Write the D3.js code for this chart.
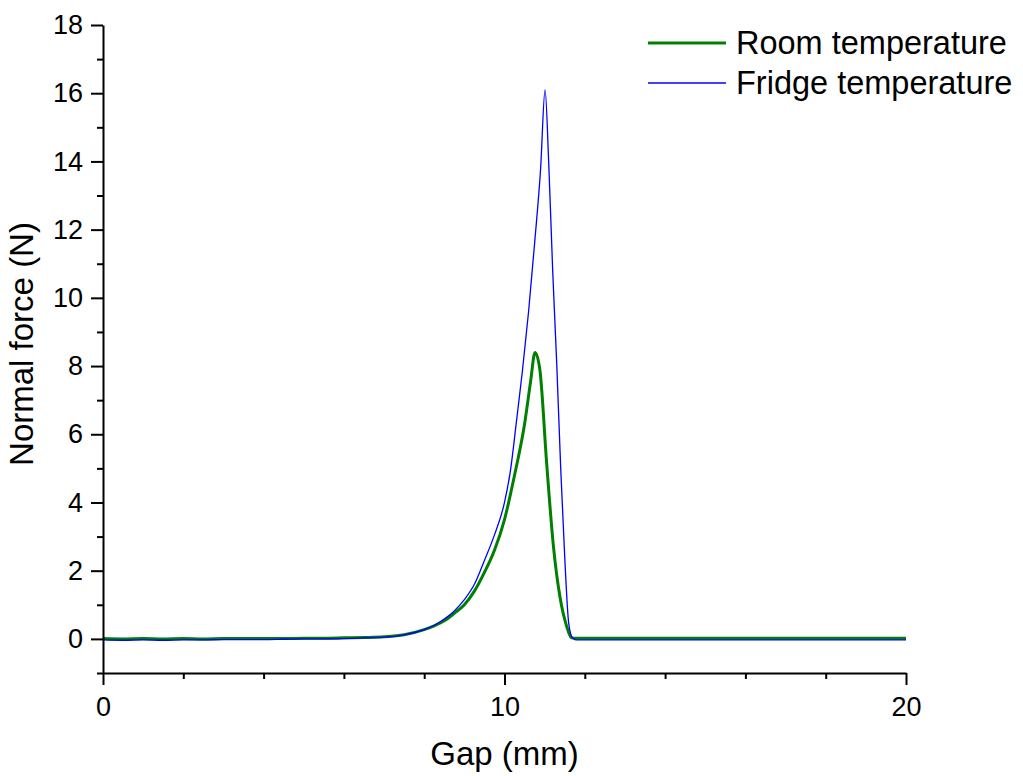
<!DOCTYPE html>
<html>
<head>
<meta charset="utf-8">
<script src="https://cdn.jsdelivr.net/npm/d3@7"></script>
<style>
  body { margin: 0; background: #fff; }
  text { font-family: "Liberation Sans", Arial, sans-serif; fill: #000; }
</style>
</head>
<body>
<div id="chart"></div>
<script>
// Gap (mm) and normal force (N)
const roomGap = [0, 0.5, 1, 1.5, 2, 2.5, 3, 3.5, 4, 4.5, 5, 5.5, 6, 6.5, 7, 7.5, 8, 8.25, 8.5, 8.75, 9, 9.25, 9.5, 9.75, 10, 10.25, 10.5, 10.65, 10.76, 10.88, 11.05, 11.22, 11.38, 11.55, 11.67, 11.8, 14, 16, 18, 20];
const roomForce = [0.01, 0.0, 0.01, 0.0, 0.01, 0.0, 0.01, 0.01, 0.01, 0.01, 0.02, 0.02, 0.03, 0.04, 0.06, 0.12, 0.27, 0.38, 0.53, 0.75, 1.0, 1.4, 1.95, 2.6, 3.5, 4.8, 6.3, 7.55, 8.4, 7.9, 5.15, 2.7, 1.24, 0.36, 0.03, 0.02, 0.02, 0.02, 0.02, 0.02];

const fridgeGap = [0, 0.5, 1, 1.5, 2, 2.5, 3, 3.5, 4, 4.5, 5, 5.5, 6, 6.5, 7, 7.5, 8, 8.25, 8.5, 8.75, 9, 9.25, 9.5, 9.75, 10, 10.15, 10.3, 10.45, 10.6, 10.75, 10.9, 11.01, 11.1, 11.2, 11.3, 11.4, 11.5, 11.6, 11.7, 11.8, 14, 16, 18, 20];
const fridgeForce = [-0.03, -0.04, -0.03, -0.04, -0.03, -0.03, -0.02, -0.02, -0.02, -0.01, 0.0, 0.0, 0.01, 0.03, 0.05, 0.12, 0.27, 0.4, 0.58, 0.82, 1.15, 1.6, 2.3, 3.05, 4.0, 4.95, 6.4, 7.9, 9.6, 11.6, 13.8, 16.1, 14.0, 10.8, 8.1, 5.0, 2.4, 0.45, 0.02, -0.03, -0.03, -0.03, -0.03, -0.03];

const xMajor = [0, 10, 20];
const xMinor = [2, 4, 6, 8, 12, 14, 16, 18];
const yMajor = [0, 2, 4, 6, 8, 10, 12, 14, 16, 18];
const yMinor = [-1, 1, 3, 5, 7, 9, 11, 13, 15, 17];

const series = [
  { name: "Room temperature", color: "#008000", width: 3, gap: roomGap, force: roomForce },
  { name: "Fridge temperature", color: "#0000ff", width: 1.3, gap: fridgeGap, force: fridgeForce }
];

const W = 1023, H = 776;
const margin = { top: 25, right: 117, bottom: 103, left: 103 };
const width = W - margin.left - margin.right;
const height = H - margin.top - margin.bottom;

const svg = d3.select("#chart").append("svg")
  .attr("width", W)
  .attr("height", H);

const g = svg.append("g")
  .attr("transform", `translate(${margin.left},${margin.top})`);

const x = d3.scaleLinear().domain([0, 20]).range([0, width]);
const y = d3.scaleLinear().domain([-1, 18]).range([height, 0]);

// lines
const line = d3.line()
  .x(d => x(d[0]))
  .y(d => y(d[1]))
  .curve(d3.curveMonotoneX);

series.forEach(s => {
  g.append("path")
    .datum(s.gap.map((v, i) => [v, s.force[i]]))
    .attr("fill", "none")
    .attr("stroke", s.color)
    .attr("stroke-width", s.width)
    .attr("stroke-linejoin", "round")
    .attr("d", line);
});

// axes: major ticks with labels, minor ticks without
function styleAxis(sel) {
  sel.select(".domain").attr("stroke-width", 2);
  sel.selectAll(".tick line").attr("stroke-width", 2);
}

const xAxis = g.append("g")
  .attr("transform", `translate(0,${height})`)
  .call(d3.axisBottom(x).tickValues(xMajor).tickSize(12).tickSizeOuter(0).tickPadding(12));
xAxis.selectAll("text").attr("font-size", 27);
styleAxis(xAxis);

const xAxisMinor = g.append("g")
  .attr("transform", `translate(0,${height})`)
  .call(d3.axisBottom(x).tickValues(xMinor).tickSize(6).tickSizeOuter(0).tickFormat(""));
xAxisMinor.select(".domain").remove();
styleAxis(xAxisMinor);

const yAxis = g.append("g")
  .call(d3.axisLeft(y).tickValues(yMajor).tickSize(12).tickSizeOuter(0).tickPadding(8));
yAxis.selectAll("text").attr("font-size", 27);
styleAxis(yAxis);

const yAxisMinor = g.append("g")
  .call(d3.axisLeft(y).tickValues(yMinor).tickSize(6).tickSizeOuter(0).tickFormat(""));
yAxisMinor.select(".domain").remove();
styleAxis(yAxisMinor);

// axis titles
g.append("text")
  .attr("x", width / 2)
  .attr("y", height + 92)
  .attr("text-anchor", "middle")
  .attr("font-size", 33)
  .text("Gap (mm)");

g.append("text")
  .attr("transform", "rotate(-90)")
  .attr("x", -height / 2 + 5)
  .attr("y", -70)
  .attr("text-anchor", "middle")
  .attr("font-size", 33)
  .text("Normal force (N)");

// legend
const legend = svg.append("g").attr("transform", "translate(648,43)");
series.forEach((s, i) => {
  const row = legend.append("g").attr("transform", `translate(0,${i * 40})`);
  row.append("line")
    .attr("x1", 0).attr("x2", 78)
    .attr("stroke", s.color)
    .attr("stroke-width", s.width);
  row.append("text")
    .attr("x", 88)
    .attr("y", 11)
    .attr("font-size", 32.5)
    .text(s.name);
});
</script>
</body>
</html>
